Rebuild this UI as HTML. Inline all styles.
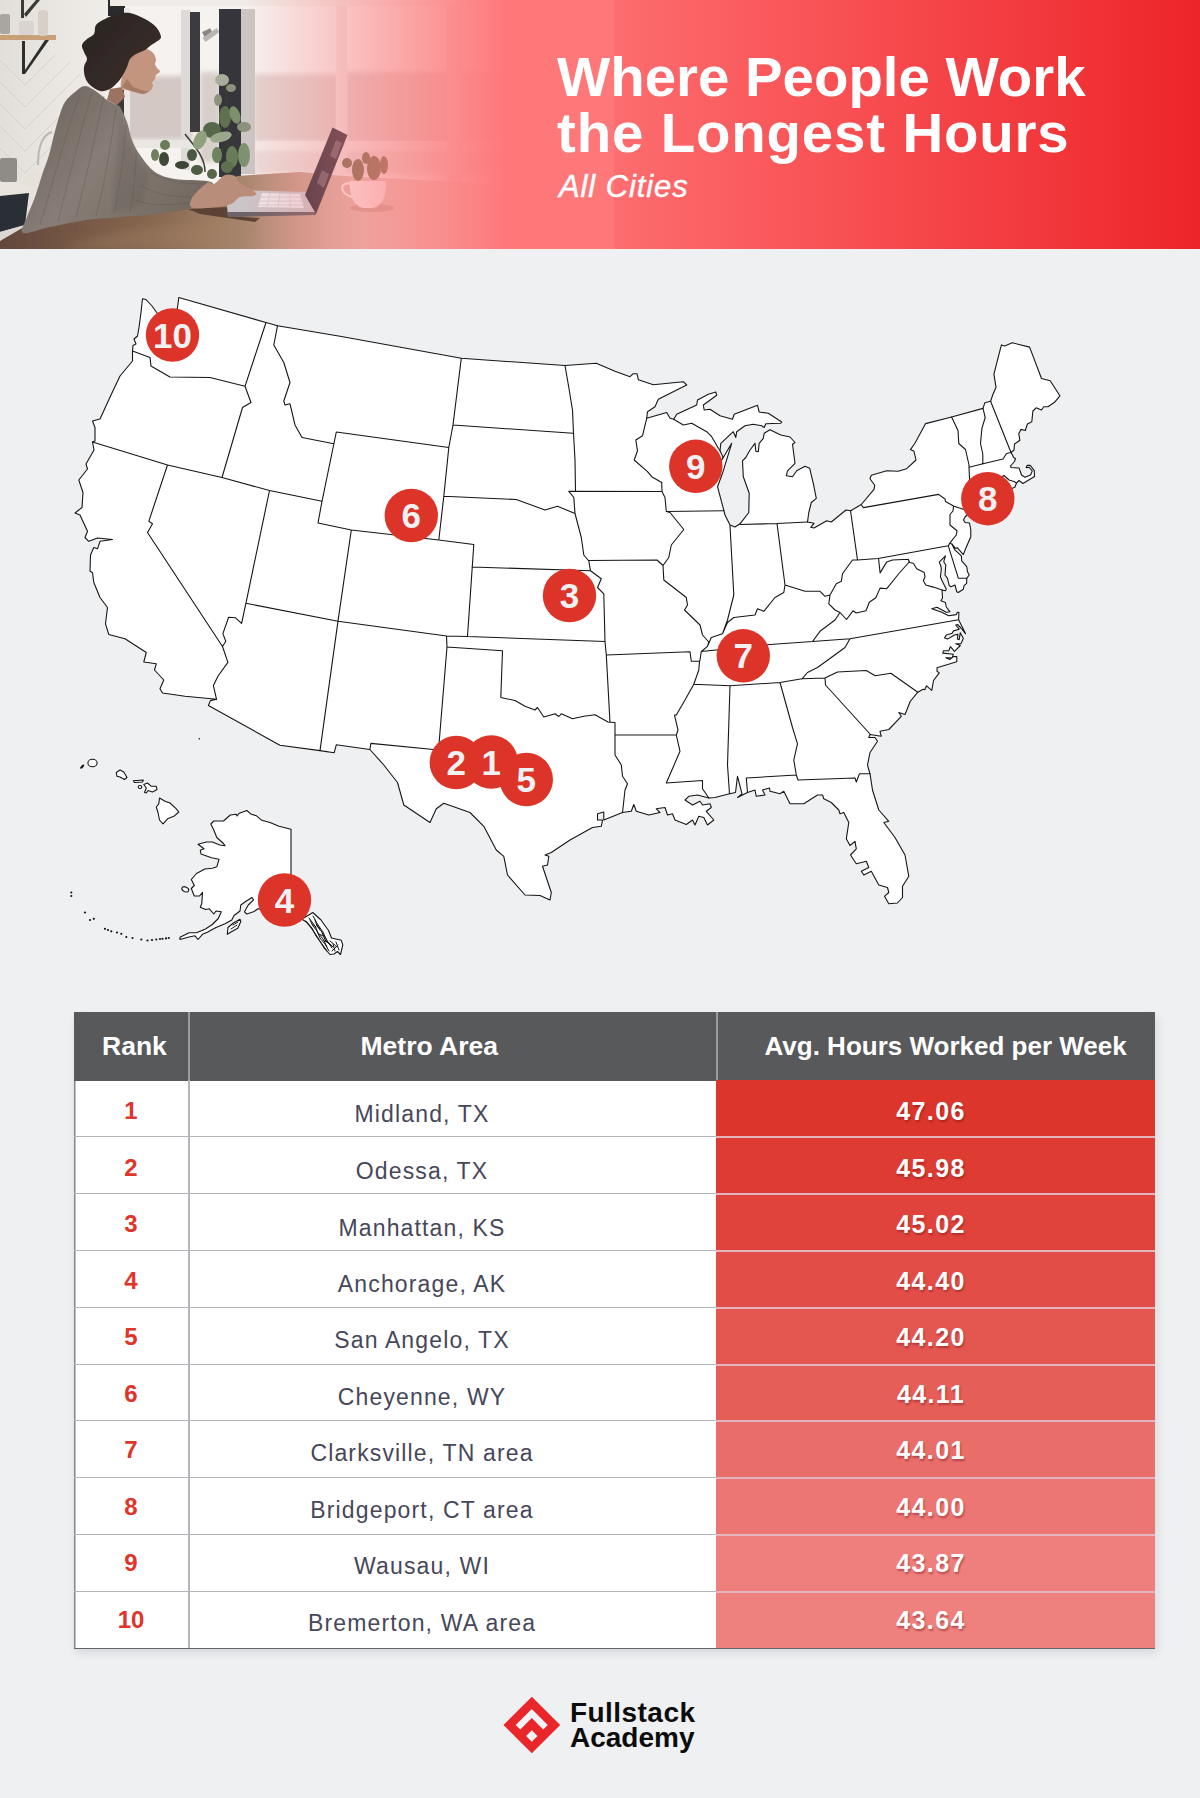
<!DOCTYPE html>
<html lang="en">
<head>
<meta charset="utf-8">
<title>Where People Work the Longest Hours</title>
<style>
html,body{margin:0;padding:0;}
body{width:1200px;height:1798px;background:#eff0f2;position:relative;overflow:hidden;font-family:"Liberation Sans",Arial,sans-serif;}
#hdr{position:absolute;left:0;top:0;width:1200px;height:249px;overflow:hidden;background:linear-gradient(90deg,#fd6d6f 0px,#fd6d6f 613px,#f95558 800px,#f33d41 1000px,#ed2529 1200px);}
#hdr svg{position:absolute;left:0;top:0;}
#t1,#t2{position:absolute;left:557px;color:#fff;font-weight:700;font-size:56.4px;line-height:60px;white-space:nowrap;}
#t1{top:47.4px;letter-spacing:0px;}
#t2{top:102.9px;letter-spacing:0.85px;}
#t3{position:absolute;left:559px;top:170px;color:#fff;font-style:italic;font-size:31px;line-height:34px;white-space:nowrap;letter-spacing:0.9px;-webkit-text-stroke:0.45px #fff;}
#map{position:absolute;left:0;top:248px;width:1200px;height:740px;}
#tbl{position:absolute;left:74px;top:1012px;width:1081px;height:636px;box-shadow:2px 5px 9px rgba(40,40,60,0.12),0 1px 0 #6f6a6e,inset 1.5px 0 0 #85868a;background:#fff;}
.th{position:absolute;top:0;height:69px;background:#58595b;color:#fff;font-weight:700;font-size:26.5px;white-space:nowrap;box-sizing:border-box;}
.th span{position:absolute;top:19px;line-height:30px;}
.row{position:absolute;left:0;width:1081px;}
.c1,.c2,.c3{position:absolute;top:0;height:100%;white-space:nowrap;box-sizing:border-box;}
.row span{position:absolute;transform:translateX(-50%);line-height:30px;}
.c1{left:0;width:114px;color:#e0352b;font-weight:700;font-size:24px;}
.c1 span{left:57px;top:17px;}
.c2{left:114px;width:528px;color:#47475a;font-size:23px;border-left:2px solid #b4b5bb;letter-spacing:1.15px;}
.c2 span{left:232px;top:17.5px;}
.c3{left:642px;width:439px;color:#fff;font-weight:700;font-size:25px;letter-spacing:1.4px;text-shadow:1px 2px 2px rgba(120,20,20,0.45);}
.c3 span{left:215px;top:16px;}
.c1.bt,.c2.bt{border-top:1px solid #b4b5bb;}
.c3.bt{border-top:2px solid #e3b4be;}
#logo{position:absolute;left:500px;top:1693px;}
#lt{position:absolute;left:570px;top:1700px;color:#0c0c0c;font-weight:700;font-size:28px;line-height:25.2px;white-space:nowrap;}
</style>
</head>
<body>
<div id="hdr">
<svg id="photo" width="614" height="249" viewBox="0 0 614 249">
<defs>
<filter id="b1" x="-5%" y="-5%" width="110%" height="110%"><feGaussianBlur stdDeviation="0.7"/></filter>
<filter id="b2" x="-5%" y="-5%" width="110%" height="110%"><feGaussianBlur stdDeviation="2.5"/></filter>
<filter id="b3" x="-10%" y="-10%" width="120%" height="120%"><feGaussianBlur stdDeviation="5"/></filter>
<linearGradient id="ov" x1="245" y1="0" x2="505" y2="0" gradientUnits="userSpaceOnUse"><stop offset="0" stop-color="#fe787a" stop-opacity="0"/><stop offset="1" stop-color="#fe787a" stop-opacity="1"/></linearGradient>
<linearGradient id="wall" x1="0" y1="0" x2="110" y2="0" gradientUnits="userSpaceOnUse"><stop offset="0" stop-color="#e2ded9"/><stop offset="1" stop-color="#f0ede9"/></linearGradient>
<linearGradient id="tbl" x1="0" y1="0" x2="520" y2="0" gradientUnits="userSpaceOnUse"><stop offset="0" stop-color="#63473a"/><stop offset="0.3" stop-color="#886850"/><stop offset="0.45" stop-color="#a48169"/><stop offset="0.58" stop-color="#c9a08e"/><stop offset="0.7" stop-color="#e3c4ba"/><stop offset="1" stop-color="#f0dfda"/></linearGradient>
<linearGradient id="sw" x1="30" y1="90" x2="200" y2="220" gradientUnits="userSpaceOnUse"><stop offset="0" stop-color="#6a615b"/><stop offset="0.45" stop-color="#877d76"/><stop offset="1" stop-color="#70675f"/></linearGradient>
<linearGradient id="hr" x1="85" y1="20" x2="150" y2="80" gradientUnits="userSpaceOnUse"><stop offset="0" stop-color="#2a2321"/><stop offset="1" stop-color="#3a2f2b"/></linearGradient>
</defs>
<rect width="614" height="249" fill="#f6f2ef"/>
<g filter="url(#b2)">
<rect x="-5" y="-5" width="117" height="260" fill="url(#wall)"/>
<rect x="126" y="76" width="66" height="64" fill="#d3c8c4"/>
<rect x="200" y="72" width="20" height="90" fill="#d8cfcb"/>
<rect x="254" y="74" width="84" height="68" fill="#e2d3d0"/>
<rect x="346" y="72" width="104" height="72" fill="#e3d2cf"/>
<rect x="460" y="72" width="60" height="72" fill="#e6d6d3"/>
<rect x="254" y="150" width="260" height="24" fill="#eadcd9"/>
</g>
<g filter="url(#b1)">
<rect x="108" y="0" width="17" height="16" fill="#2c2b2e"/>
<rect x="116" y="90" width="10" height="30" fill="#3a3839"/>
<rect x="124" y="8" width="6" height="135" fill="#ebe8e5"/>
<rect x="181" y="10" width="9" height="160" fill="#dedad7"/>
<rect x="190" y="12" width="10" height="120" fill="#3b3b3f"/>
<rect x="203" y="30" width="9" height="6" fill="#8b8786" transform="rotate(-25 207 33)"/>
<path d="M204 40l14-10" stroke="#b9b5b2" stroke-width="5"/>
<rect x="219" y="9" width="22" height="168" fill="#36363a"/>
<rect x="241" y="9" width="14" height="165" fill="#cbc6c4"/>
<rect x="126" y="140" width="70" height="8" fill="#eae6e3"/>
<rect x="255" y="141" width="260" height="8" fill="#f3ebe8"/>
<rect x="336" y="5" width="11" height="170" fill="#efe6e3"/>
<rect x="447" y="0" width="15" height="185" fill="#eedfdc"/>
<rect x="110" y="0" width="504" height="6" fill="#f0ebe7"/>
<rect x="0" y="35" width="56" height="5" fill="#c7a078"/>
<path d="M22 41h3v29l20-30h4l-24 34h-3z" fill="#2e2d2c"/>
<rect x="21" y="0" width="3" height="18" fill="#3a3a36"/>
<path d="M24 14l12-14h4l-14 17z" fill="#3a3a36"/>
<rect x="0" y="14" width="10" height="20" rx="2" fill="#a9a6a0"/>
<rect x="19" y="21" width="15" height="14" rx="3" fill="#d9d5ce"/>
<rect x="38" y="10" width="10" height="26" rx="4" fill="#d6d0c8"/>
<g stroke="#d2cdc7" stroke-width="1" fill="none" opacity="0.8"><path d="M0 60l25 25 30-30M0 82l25 25 45-45M0 104l25 25 55-55M0 126l25 25 50-50M0 148l25 25 30-30"/></g>
<path d="M0 180l30 6v8l-30 2z" fill="#e9e4de"/>
<path d="M0 196l29-3-4 32-25 7z" fill="#2b2e34"/>
<path d="M0 232l25-7-2 24h-23z" fill="#dcd7d2"/>
<rect x="0" y="158" width="17" height="24" rx="2" fill="#8f8c87"/>
<rect x="23" y="172" width="17" height="14" rx="5" fill="#e6e1d9"/>
<path d="M38 165c0-18 4-30 14-33" stroke="#b9b7b5" stroke-width="2" fill="none"/>
<path d="M0 249v-8l24-14 96-19 70-8 37 5 10-29 63-4 45 4 75 4 100 6 94 8v55z" fill="url(#tbl)"/>
<path d="M60 249c60-22 130-28 200-30l-20 30z" fill="#a58468" opacity="0.35" filter="url(#b3)"/>
<g stroke="#3a3d30" stroke-width="1.5" fill="none"><path d="M228 175c-2-30 4-60-4-92M205 172c0-15-10-25-20-38M222 150c8-8 14-14 22-22"/></g>
<ellipse cx="222" cy="80" rx="7" ry="6" fill="#a9ad9c"/>
<ellipse cx="231" cy="88" rx="5" ry="4" fill="#8c917f"/>
<ellipse cx="225" cy="117" rx="6" ry="11" fill="#5e7150"/>
<ellipse cx="212" cy="130" rx="9" ry="8" fill="#55684a"/>
<ellipse cx="221" cy="137" rx="11" ry="5" fill="#9aa88a" transform="rotate(-15 221 137)"/>
<ellipse cx="235" cy="115" rx="5" ry="9" fill="#7d8f6c" transform="rotate(-20 235 115)"/>
<ellipse cx="244" cy="127" rx="7" ry="5" fill="#8a917c"/>
<ellipse cx="244" cy="155" rx="6" ry="12" fill="#7f9270"/>
<ellipse cx="232" cy="157" rx="6" ry="11" fill="#687c59"/>
<ellipse cx="217" cy="155" rx="5" ry="8" fill="#6f835f"/>
<ellipse cx="227" cy="167" rx="6" ry="6" fill="#5d704f"/>
<ellipse cx="200" cy="140" rx="6" ry="10" fill="#8fa07c" transform="rotate(25 200 140)"/>
<ellipse cx="192" cy="155" rx="5" ry="6" fill="#4a5941"/>
<ellipse cx="165" cy="145" rx="5" ry="5" fill="#6b7d5a"/>
<ellipse cx="164" cy="159" rx="5" ry="7" fill="#3f4a38"/>
<ellipse cx="155" cy="155" rx="4" ry="6" fill="#6f805e"/>
<ellipse cx="182" cy="165" rx="7" ry="4" fill="#3a4434"/>
<ellipse cx="197" cy="170" rx="6" ry="5" fill="#4d5c43"/>
<ellipse cx="212" cy="174" rx="5" ry="5" fill="#55664a"/>
<ellipse cx="218" cy="100" rx="4" ry="6" fill="#8d937f"/>
<path d="M188 209l40-2 0 9 32 2-5 4-55-8z" fill="#5b4334"/>
<path d="M227 206l10-16 71 2 8 22-88 2z" fill="#cbc4c8"/>
<path d="M262 193l38 1 4 14-46-1z" fill="#ece7ea"/>
<g stroke="#cfc9cd" stroke-width="0.8"><path d="M261 197h40M260 201h42M259 205h44M270 193l-3 14M280 193l-2 14M290 194l0 14"/></g>
<path d="M227 212l89 0 0 3-88 2z" fill="#6d6468"/>
<path d="M332.500 127.500l15 7.500-31.500 79-11-19z" fill="#38343f"/>
<path d="M336 140l6 3-6 16-6-3zM322 170l7 4-5 14-7-5z" fill="#8d8790" opacity="0.55"/>
<ellipse cx="372" cy="208" rx="22" ry="4" fill="#b58d7c" opacity="0.5"/>
<path d="M350 181h36c1 14-4 26-14 27h-8c-10-1-15-13-14-27z" fill="#fcf0ef"/>
<path d="M351 184c-10-3-14 8 1 13" stroke="#fcf0ef" stroke-width="2.200" fill="none"/>
<g fill="#74704f"><ellipse cx="358" cy="170" rx="6" ry="11"/><ellipse cx="374" cy="168" rx="7" ry="12"/><ellipse cx="384" cy="165" rx="4" ry="9"/><ellipse cx="347" cy="163" rx="5" ry="5"/><ellipse cx="366" cy="158" rx="4" ry="6"/></g>
<path d="M85.0 86.0C81.3 86.0 78.3 89.3 75.0 92.0C71.7 94.7 67.7 97.8 65.0 102.0C62.3 106.2 60.8 111.5 59.0 117.0C57.2 122.5 55.7 128.7 54.0 135.0C52.3 141.3 51.0 148.3 49.0 155.0C47.0 161.7 44.3 168.0 42.0 175.0C39.7 182.0 37.5 190.0 35.0 197.0C32.5 204.0 29.0 211.0 27.0 217.0C25.0 223.0 19.2 231.3 23.0 233.0C26.8 234.7 39.3 229.2 50.0 227.0C60.7 224.8 75.3 221.7 87.0 220.0C98.7 218.3 108.7 218.0 120.0 217.0C131.3 216.0 143.3 215.5 155.0 214.0C166.7 212.5 183.7 210.8 190.0 208.0C196.3 205.2 189.3 200.7 193.0 197.0C196.7 193.3 209.7 188.7 212.0 186.0C214.3 183.3 213.2 182.2 207.0 181.0C200.8 179.8 183.7 180.5 175.0 179.0C166.3 177.5 160.8 176.0 155.0 172.0C149.2 168.0 143.8 160.3 140.0 155.0C136.2 149.7 134.2 145.5 132.0 140.0C129.8 134.5 129.0 127.5 127.0 122.0C125.0 116.5 121.7 109.8 120.0 107.0C118.3 104.2 119.2 106.2 117.0 105.0C114.8 103.8 110.3 102.2 107.0 100.0C103.7 97.8 100.7 94.3 97.0 92.0C93.3 89.7 88.7 86.0 85.0 86.0Z" fill="url(#sw)"/>
<path d="M110 89l12-2 3 10-8 8-10-5z" fill="#9b7361"/>
<path d="M142.0 48.0C144.2 47.7 147.0 49.0 149.0 50.0C151.0 51.0 152.8 52.3 154.0 54.0C155.2 55.7 155.8 58.3 156.0 60.0C156.2 61.7 154.8 62.7 155.0 64.0C155.2 65.3 156.2 66.8 157.0 68.0C157.8 69.2 160.2 70.3 160.0 71.5C159.8 72.7 156.8 73.8 156.0 75.0C155.2 76.2 155.7 77.7 155.0 79.0C154.3 80.3 152.3 81.9 152.0 83.0C151.7 84.1 153.3 84.2 153.0 85.5C152.7 86.8 151.7 89.6 150.0 91.0C148.3 92.4 146.2 94.0 143.0 94.0C139.8 94.0 134.7 92.2 131.0 91.0C127.3 89.8 122.2 90.5 121.0 87.0C119.8 83.5 122.5 74.8 124.0 70.0C125.5 65.2 128.0 61.0 130.0 58.0C132.0 55.0 134.0 53.7 136.0 52.0C138.0 50.3 139.8 48.3 142.0 48.0Z" fill="#c3957f"/>
<path d="M122 87l9 4 12 3 6-3-4 0-12-4-6-8z" fill="#a57a66"/>
<path d="M130 60l6-6 10-5-10 2z" fill="#a67c69"/>
<path d="M117.0 14.0C121.2 13.0 125.3 12.2 130.0 13.0C134.7 13.8 140.7 16.7 145.0 19.0C149.3 21.3 153.3 24.0 156.0 27.0C158.7 30.0 161.0 34.5 161.0 37.0C161.0 39.5 157.8 40.5 156.0 42.0C154.2 43.5 151.8 44.7 150.0 46.0C148.2 47.3 147.3 48.7 145.0 50.0C142.7 51.3 138.5 52.5 136.0 54.0C133.5 55.5 131.5 56.8 130.0 59.0C128.5 61.2 128.2 64.3 127.0 67.0C125.8 69.7 124.5 72.5 123.0 75.0C121.5 77.5 120.2 79.7 118.0 82.0C115.8 84.3 113.0 87.5 110.0 89.0C107.0 90.5 103.3 91.7 100.0 91.0C96.7 90.3 92.5 87.3 90.0 85.0C87.5 82.7 86.0 80.0 85.0 77.0C84.0 74.0 83.7 70.0 84.0 67.0C84.3 64.0 87.0 61.5 87.0 59.0C87.0 56.5 84.8 54.3 84.0 52.0C83.2 49.7 81.5 47.2 82.0 45.0C82.5 42.8 85.0 40.8 87.0 39.0C89.0 37.2 92.5 36.3 94.0 34.0C95.5 31.7 94.2 27.5 96.0 25.0C97.8 22.5 101.5 20.8 105.0 19.0C108.5 17.2 112.8 15.0 117.0 14.0Z" fill="url(#hr)"/>
<path d="M207.0 183.0C210.7 180.7 211.0 185.3 214.0 184.0C217.0 182.7 221.5 176.3 225.0 175.0C228.5 173.7 232.7 174.8 235.0 176.0C237.3 177.2 235.7 179.3 239.0 182.0C242.3 184.7 252.7 189.7 255.0 192.0C257.3 194.3 255.5 195.2 253.0 196.0C250.5 196.8 244.2 195.5 240.0 197.0C235.8 198.5 235.7 203.2 228.0 205.0C220.3 206.8 200.0 209.2 194.0 208.0C188.0 206.8 189.8 202.2 192.0 198.0C194.2 193.8 203.3 185.3 207.0 183.0Z" fill="#b88d79"/>
</g>
<g stroke="#5f5752" stroke-width="1" opacity="0.4" fill="none" filter="url(#b1)">
<path d="M80 95c-12 30-25 80-40 130M92 92c-10 35-22 80-34 130M104 96c-8 35-16 75-28 122M116 108c-5 35-10 70-20 108M126 125c-2 30-6 60-12 88M136 150c0 20-2 40-6 62M150 172c12 8 30 12 55 12M140 185c15 10 35 12 52 12M135 200c15 6 35 6 55 2"/>
</g>
<path d="M120 107c5 25 12 50 30 68l-8 30-30 8z" fill="#5c544f" opacity="0.25" filter="url(#b2)"/>
<rect x="245" y="0" width="369" height="249" fill="url(#ov)"/>
</svg>
<div id="t1">Where People Work</div>
<div id="t2">the Longest Hours</div>
<div id="t3">All Cities</div>
</div>
<svg id="map" width="1200" height="740" viewBox="0 248 1200 740">
<g fill="#fff" stroke="#161616" stroke-width="1.1" stroke-linejoin="round" stroke-linecap="round">
<path d="M142.5 298.8 L146.0 299.5 L152.0 306.0 L157.0 313.0 L160.0 322.0 L158.0 330.0 L163.0 336.0 L168.0 330.0 L172.0 320.0 L176.0 312.0 L177.5 307.5 L178.8 297.5 L266.0 322.5 L277.5 325.8 L340.0 336.3 L461.3 358.3 L565.0 365.5 L596.3 363.3 L615.0 371.3 L630.0 376.7 L633.3 373.7 L637.0 373.7 L638.3 379.7 L653.3 384.7 L683.3 381.7 L686.7 385.0 L658.3 399.2 L655.0 406.7 L647.5 411.7 L646.7 418.3 L666.7 412.5 L670.0 418.3 L673.7 419.2 L676.7 414.2 L696.7 405.0 L697.5 400.0 L708.3 394.2 L715.8 392.0 L716.7 395.3 L703.3 405.0 L704.2 410.0 L710.0 409.2 L720.0 415.8 L732.5 419.2 L734.2 414.2 L757.5 405.3 L759.2 412.0 L768.3 413.3 L781.7 422.0 L780.8 423.3 L765.8 423.7 L764.2 427.5 L761.7 425.8 L753.3 424.2 L745.0 425.8 L736.7 431.7 L735.8 437.5 L733.3 431.7 L720.8 443.3 L720.0 450.8 L723.0 457.0 L721.5 460.5 L731.7 443.3 L722.5 473.3 L717.5 486.7 L723.3 508.3 L725.0 515.0 L730.0 525.0 L735.0 527.0 L740.0 523.8 L748.8 512.5 L749.2 493.3 L743.3 476.7 L742.5 460.8 L745.8 457.5 L750.0 450.0 L755.0 443.3 L755.8 451.3 L758.3 451.7 L759.2 443.3 L763.3 438.3 L764.2 433.3 L770.0 429.7 L780.8 435.0 L790.0 437.0 L795.0 442.5 L792.5 444.2 L795.0 463.3 L787.5 470.8 L786.3 475.8 L792.5 476.7 L796.7 470.8 L805.0 466.3 L809.7 468.3 L813.3 483.3 L816.3 498.3 L811.3 502.5 L808.8 512.5 L807.5 522.0 L814.0 523.3 L810.7 527.3 L814.0 528.0 L826.7 520.7 L831.3 522.0 L846.0 510.0 L850.7 510.7 L861.3 504.5 L874.0 489.3 L874.7 485.3 L870.0 478.7 L871.3 475.3 L886.7 470.7 L898.0 471.3 L906.7 468.7 L916.0 460.0 L914.0 451.3 L910.4 449.6 L914.8 443.5 L925.6 423.6 L951.6 417.0 L983.0 408.4 L984.8 402.8 L990.6 401.3 L992.8 394.8 L996.0 387.2 L993.9 374.2 L1001.4 344.9 L1004.7 346.0 L1012.3 342.8 L1029.6 347.1 L1041.5 378.5 L1050.2 380.7 L1059.9 395.8 L1054.5 402.3 L1048.0 406.7 L1043.7 406.7 L1041.5 410.0 L1036.1 407.8 L1032.9 411.0 L1031.8 421.8 L1027.4 424.0 L1025.3 430.5 L1020.9 429.4 L1018.8 433.8 L1019.9 440.3 L1014.5 444.0 L1014.0 450.0 L1011.0 452.5 L1012.5 455.0 L1013.5 457.5 L1015.5 458.5 L1014.5 461.5 L1010.5 466.0 L1011.0 467.5 L1019.0 468.0 L1020.5 472.0 L1021.5 475.0 L1025.0 477.2 L1030.5 475.0 L1032.3 471.0 L1029.2 467.3 L1026.2 467.6 L1027.2 465.4 L1030.2 465.3 L1034.3 470.6 L1034.5 476.5 L1023.0 483.5 L1019.0 480.5 L1016.5 483.0 L1015.0 487.0 L1005.0 492.0 L985.0 502.0 L972.0 510.0 L965.0 517.0 L963.5 520.0 L965.0 522.5 L969.5 523.0 L970.8 530.0 L970.8 536.7 L965.8 548.3 L963.3 554.6 L957.5 547.9 L955.4 548.3 L952.0 544.2 L954.6 549.6 L961.3 555.8 L961.7 560.8 L966.7 566.7 L967.5 571.7 L969.2 575.0 L966.7 578.3 L966.7 583.3 L964.2 585.4 L963.3 589.2 L958.3 592.5 L956.7 591.7 L955.0 585.0 L950.8 586.7 L949.2 585.4 L947.5 578.3 L945.0 575.0 L945.4 570.0 L945.8 565.0 L943.8 561.7 L945.4 555.8 L939.2 562.1 L940.8 565.8 L941.3 569.2 L940.4 576.7 L941.7 580.0 L946.3 589.2 L945.4 590.8 L942.1 590.0 L942.5 598.3 L940.8 600.8 L945.4 602.5 L946.3 607.0 L949.8 611.7 L946.3 612.3 L937.0 607.2 L931.8 608.8 L941.7 612.3 L948.7 615.8 L956.3 614.6 L957.4 612.3 L958.9 612.3 L958.6 619.8 L965.6 633.8 L961.0 628.0 L957.5 624.5 L955.7 625.0 L959.2 629.2 L953.3 630.9 L952.2 633.3 L946.3 635.0 L944.6 637.9 L947.5 639.1 L954.5 635.0 L958.0 634.4 L957.4 639.1 L959.2 639.7 L960.3 632.7 L963.3 638.5 L960.9 643.8 L955.7 643.8 L960.3 645.5 L954.5 651.3 L950.4 646.7 L948.7 650.8 L943.4 650.8 L942.8 653.1 L953.3 654.3 L952.2 657.8 L945.8 657.8 L949.8 659.5 L953.3 656.6 L956.8 656.6 L956.8 661.8 L937.0 667.7 L937.0 671.2 L939.3 672.9 L933.5 680.5 L931.8 690.4 L926.5 685.8 L924.8 689.8 L923.0 689.3 L917.8 692.2 L910.2 701.5 L905.0 714.5 L898.8 712.5 L901.3 716.3 L888.8 729.5 L880.0 731.3 L881.3 736.3 L870.0 734.5 L868.8 737.5 L875.0 737.5 L877.5 741.3 L870.0 752.5 L867.5 765.0 L870.0 773.8 L872.5 790.0 L878.8 810.0 L888.8 821.3 L883.8 822.5 L895.0 837.5 L905.0 855.0 L908.8 876.3 L902.5 886.3 L902.5 897.5 L897.5 903.0 L888.8 903.8 L884.5 896.3 L888.8 892.5 L887.5 887.5 L878.8 885.0 L871.3 871.3 L863.8 875.0 L861.3 871.3 L868.8 867.5 L866.3 861.3 L856.3 863.8 L850.5 855.0 L856.3 848.8 L855.0 841.3 L850.0 845.5 L846.3 838.8 L848.8 822.5 L843.8 812.5 L840.0 813.8 L838.8 810.0 L831.3 802.5 L823.8 798.8 L822.5 795.0 L817.5 795.0 L803.8 803.8 L790.0 803.8 L783.8 791.3 L780.0 793.8 L770.0 791.3 L769.5 788.0 L762.5 790.0 L765.0 795.0 L756.3 796.3 L755.0 790.0 L747.5 792.5 L737.5 797.5 L742.0 793.8 L737.5 776.3 L735.5 792.5 L729.5 793.8 L715.0 797.5 L708.8 798.0 L697.5 795.0 L688.8 796.3 L685.0 800.0 L692.5 805.0 L700.0 801.3 L702.5 805.0 L710.0 803.8 L711.3 807.5 L706.3 811.3 L713.8 820.0 L707.5 825.0 L703.8 817.5 L698.8 816.3 L695.0 825.0 L692.5 820.0 L686.3 824.5 L675.0 820.0 L672.5 813.8 L667.5 815.0 L665.0 807.5 L656.3 808.8 L660.0 812.5 L648.8 815.0 L636.3 811.3 L633.8 804.5 L631.3 811.3 L622.5 812.5 L603.8 820.0 L603.8 812.0 L597.5 813.8 L597.5 820.0 L602.5 820.0 L601.3 826.3 L592.5 827.5 L570.0 840.0 L551.3 852.5 L545.0 855.0 L548.8 856.3 L547.5 865.0 L542.5 866.3 L551.3 892.5 L550.0 900.0 L540.0 895.5 L525.0 895.0 L507.5 875.0 L503.8 856.3 L496.3 850.0 L483.8 826.3 L470.0 812.5 L443.8 803.3 L436.3 808.8 L430.0 822.5 L403.8 805.0 L397.5 782.5 L383.8 765.0 L369.9 749.5 L336.3 744.8 L334.1 752.8 L320.0 750.6 L279.9 745.2 L208.4 705.5 L210.4 700.6 L216.6 699.3 L185.0 696.3 L162.5 693.0 L160.0 688.8 L163.8 680.0 L154.5 670.0 L156.3 663.8 L143.8 662.0 L146.3 652.5 L125.0 638.8 L108.8 634.5 L105.5 623.8 L107.5 607.5 L100.0 597.5 L93.8 582.5 L92.5 572.5 L90.0 571.3 L90.5 555.0 L93.8 547.5 L97.5 548.8 L100.0 541.3 L112.5 539.5 L97.5 538.0 L88.8 541.3 L85.0 537.5 L87.5 531.3 L80.0 515.0 L75.0 513.0 L82.0 507.5 L83.0 492.5 L78.8 480.0 L87.5 469.0 L86.0 464.0 L94.0 450.0 L92.5 442.0 L95.0 441.0 L95.0 427.5 L92.5 421.0 L100.0 419.0 L111.0 395.0 L120.0 376.0 L132.5 361.0 L132.5 353.8 L132.5 351.0 L133.0 345.5 L136.0 344.0 L134.0 339.0 L137.5 336.0 L139.0 327.5 L141.0 312.5Z"/>
<path d="M210.8 824.0 L213.8 821.0 L223.5 821.0 L230.3 815.0 L236.3 814.3 L237.0 816.0 L239.3 813.2 L246.8 810.5 L251.3 814.3 L256.5 815.8 L261.8 820.3 L270.0 822.5 L279.0 826.3 L291.0 829.3 L291.0 905.0 L297.0 910.0 L303.0 918.5 L312.8 912.5 L321.0 920.0 L328.5 930.5 L331.5 938.0 L341.3 940.3 L342.8 944.8 L340.5 954.5 L337.5 951.5 L334.0 954.0 L330.0 954.5 L324.0 947.8 L318.0 938.0 L312.0 929.0 L306.8 922.3 L300.0 918.0 L290.0 916.0 L275.0 912.0 L258.0 908.8 L253.5 911.8 L246.8 914.0 L244.5 911.8 L248.3 905.0 L253.5 899.8 L252.0 897.5 L246.0 901.3 L240.8 905.0 L240.0 911.0 L234.0 915.5 L231.8 920.0 L225.0 923.8 L216.0 927.5 L207.8 932.0 L202.5 934.3 L198.0 939.5 L195.0 935.8 L189.0 937.0 L180.0 939.5 L180.0 937.3 L189.0 932.8 L196.5 932.8 L205.5 929.0 L212.3 924.5 L218.3 918.5 L221.3 911.8 L216.0 911.0 L213.8 914.0 L209.3 908.8 L205.5 909.5 L200.3 907.3 L201.8 903.5 L202.5 892.3 L199.5 896.0 L194.3 896.0 L191.3 888.5 L194.3 885.5 L191.3 879.5 L196.5 873.5 L204.8 869.0 L212.3 868.3 L216.8 866.8 L219.0 859.3 L211.5 857.8 L201.0 854.0 L200.3 850.3 L204.0 848.8 L198.0 844.3 L206.3 842.0 L212.3 842.0 L219.8 845.0 L225.0 845.8 L223.5 843.5 L216.8 837.5 L213.8 830.0Z"/>
<path d="M228.0 927.5 L233.3 923.0 L240.0 919.3 L240.8 921.5 L237.8 928.3 L231.0 932.0 L227.3 934.3Z"/>
<path d="M116.3 772.5 L120.0 770.0 L123.8 772.0 L127.0 777.5 L124.5 779.5 L120.0 777.0 L117.0 776.3Z"/>
<path d="M133.3 780.8 L143.3 780.0 L142.5 782.0 L134.5 782.5Z"/>
<path d="M143.8 784.5 L147.5 783.0 L151.3 786.3 L156.3 786.3 L157.0 789.5 L152.5 792.0 L148.0 790.5 L146.3 793.0 L144.5 792.5 L146.3 788.0Z"/>
<path d="M159.5 798.0 L165.0 801.3 L170.0 803.0 L176.3 808.8 L178.8 812.0 L173.8 816.3 L167.5 818.8 L163.0 823.8 L159.5 820.0 L158.0 812.5 L156.3 807.0 L158.8 803.8Z"/>
<ellipse cx="92.5" cy="763" rx="4.6" ry="3.8"/><ellipse cx="185.3" cy="889.3" rx="3.6" ry="2.3" transform="rotate(25 185.3 889.3)"/><ellipse cx="140" cy="787" rx="1.8" ry="1.5"/>
</g>
<g fill="none" stroke="#161616" stroke-width="1.1" stroke-linejoin="round" stroke-linecap="round">
<path d="M132.5 351.0 L150.0 357.5 L151.0 366.0 L170.0 377.0 L210.0 377.5 L245.0 386.3 M266.0 322.5 L245.0 386.3 L251.0 402.5 L242.5 407.5 L222.0 477.5 M92.5 442.0 L167.5 465.0 L222.0 477.5 L269.5 490.5 L322.0 501.3 M277.5 325.8 L273.8 345.0 L283.8 362.5 L290.0 382.5 L283.8 401.0 L285.0 405.0 L290.0 403.8 L295.0 425.0 L302.0 437.5 L333.8 443.8 M448.8 447.5 L336.3 432.0 L322.0 501.3 L318.0 523.0 L351.3 530.0 L438.8 540.0 L473.8 544.5 L467.5 636.5 M167.5 465.0 L148.8 521.3 L152.5 523.8 L147.5 532.5 L222.5 646.5 M269.5 490.5 L245.9 603.3 M222.5 646.5 L225.8 641.2 L222.9 633.6 L228.6 617.3 L235.5 617.8 L241.6 623.4 L245.9 603.3 L338.0 621.2 L446.5 636.0 L467.5 636.5 L605.0 641.5 M222.5 646.5 L227.9 662.4 L218.2 675.8 L213.4 685.6 L216.5 699.2 M351.3 530.0 L338.0 621.2 L320.0 750.6 M446.5 636.0 L447.0 647.0 L438.5 750.0 L370.9 743.4 L369.9 749.5 M447.0 647.0 L502.5 650.8 L500.8 697.5 L515.0 700.5 L525.0 706.3 L535.0 710.0 L537.5 707.5 L543.8 717.0 L555.0 713.8 L558.8 716.5 L561.3 713.8 L572.5 718.8 L583.8 716.3 L595.0 714.8 L608.0 722.0 L615.0 722.5 L615.0 735.0 L615.0 755.0 L621.3 765.0 L622.5 776.3 L627.5 783.8 L625.0 790.0 L622.5 812.5 M472.0 567.0 L590.5 570.8 M461.3 358.3 L453.0 425.0 L448.8 447.5 L443.8 496.3 L438.8 540.0 M453.0 425.0 L573.0 433.3 M443.8 496.3 L516.3 499.5 L545.0 510.0 L557.5 506.3 L575.0 513.5 M565.0 365.5 L568.8 387.5 L572.5 410.0 L573.5 433.3 L575.0 460.0 L575.5 491.3 M662.0 491.5 L568.8 491.3 L573.8 497.5 L575.0 513.5 L581.3 537.5 L583.8 555.0 L588.8 561.0 L590.5 570.8 L601.3 578.8 L597.5 587.5 L603.8 593.8 L605.0 641.5 L606.3 655.0 L610.0 722.5 M615.0 735.0 L676.3 735.0 M588.8 560.5 L657.0 560.0 L663.0 565.5 M606.3 655.0 L690.0 651.8 L691.3 661.3 L699.5 661.3 M662.0 491.5 L665.0 497.5 L666.3 511.5 L670.0 512.5 L683.8 529.5 L671.3 545.0 L668.8 557.5 L663.0 565.5 L663.8 580.0 L686.3 597.5 L687.5 605.0 L684.5 610.0 L700.0 625.0 L702.5 635.0 L708.8 642.0 L707.5 646.3 L701.3 651.5 L700.0 660.0 L699.5 661.3 L698.8 670.0 L693.8 684.3 L685.0 700.0 L676.3 715.0 L674.5 715.0 L678.0 730.0 L676.3 735.0 L680.0 751.3 L666.3 783.0 L702.5 780.5 L702.5 788.8 L708.8 798.0 M646.7 418.3 L642.5 435.8 L635.8 440.0 L637.5 450.8 L634.2 460.0 L647.5 471.7 L651.7 476.7 L661.7 482.5 L662.0 491.5 M673.7 419.2 L683.3 425.0 L691.7 423.3 L706.7 431.7 L711.7 436.7 L718.3 448.3 L720.0 450.8 M666.3 511.5 L723.8 510.8 M730.0 525.5 L733.8 595.0 L727.5 620.0 L722.5 633.8 M707.5 646.3 L711.3 637.5 L722.5 633.8 L727.5 622.5 L733.8 617.5 L755.0 615.0 L757.5 608.8 L763.8 611.3 L775.0 597.5 L783.8 592.5 L785.0 585.0 L805.0 591.3 L820.0 591.3 L825.0 596.3 L830.0 595.0 L836.3 583.8 L841.3 581.3 L842.5 573.8 L852.5 560.0 L857.5 560.0 M740.0 524.5 L777.0 523.5 L807.5 522.0 M777.0 523.5 L785.0 585.0 M850.5 510.5 L857.5 560.0 L878.0 558.5 L948.3 545.8 L950.0 542.9 M861.5 505.0 L863.4 507.6 L938.6 494.4 L945.0 499.0 L945.5 501.5 L953.5 506.0 L962.5 509.0 L972.0 512.0 M953.5 506.0 L953.0 511.0 L950.0 514.5 L950.0 525.0 L957.0 530.7 L956.3 535.0 L950.0 542.9 L952.0 544.2 M948.3 545.8 L958.3 578.2 L966.7 578.2 M878.6 559.3 L880.1 572.9 L886.6 562.1 L892.5 560.0 L908.3 559.2 L909.6 562.5 L913.3 563.3 L916.7 568.8 L924.2 572.5 L925.0 576.7 L923.3 580.8 L925.8 585.0 L933.3 587.1 L942.1 590.0 M908.3 559.2 L909.2 562.0 L898.5 574.0 L886.6 588.8 L880.1 588.1 L875.8 597.8 L869.3 602.2 L866.0 610.8 L856.3 613.0 L853.0 610.8 L846.5 619.5 L840.0 612.5 M830.0 595.0 L828.8 603.8 L835.0 610.0 L840.0 612.5 L835.0 620.0 L820.0 631.3 L812.5 641.5 M701.3 651.5 L770.0 644.5 L812.5 641.5 L850.0 638.8 L958.6 619.8 M850.0 638.8 L845.0 647.5 L831.3 657.5 L817.5 667.5 L807.5 672.5 L802.0 678.8 M693.8 684.3 L730.0 685.8 L780.0 682.5 L802.0 678.8 L825.0 678.0 M730.0 685.8 L727.5 765.0 L729.5 793.8 M780.0 682.5 L792.5 727.5 L797.5 743.8 L793.8 760.0 L796.3 775.0 M747.5 792.5 L746.3 778.0 L796.3 775.0 L798.0 780.0 L855.0 778.0 L856.3 782.0 L859.5 773.8 L870.0 773.8 M825.0 678.0 L825.5 685.0 L870.0 734.0 M825.0 678.0 L837.5 672.0 L866.3 670.5 L875.2 675.8 L890.9 673.3 L917.8 692.2 M951.6 417.0 L958.0 430.5 L958.8 443.5 L965.5 449.5 L969.0 465.0 L969.0 467.2 L969.5 478.0 L970.0 495.0 M983.0 408.4 L985.2 417.5 L981.9 428.3 L980.5 443.5 L982.8 454.0 L982.8 464.0 M969.0 467.2 L982.0 464.0 L1003.0 459.0 L1006.5 453.5 L1011.0 452.5 M990.6 401.3 L1011.0 452.5 M1016.5 483.0 L1014.0 481.5 L1009.0 480.0 L1004.0 475.5 L1000.0 478.0"/>
</g>
<g fill="none" stroke="#161616" stroke-width="1" stroke-linecap="round"><path d="M309 918l6 8 3 7 5 6 4 8M313 916l5 9 5 7 4 9 6 6M306 921l6 7 4 8 6 8 5 7M317 925l3 5M322 933l4 6M326 939l6 9M330 941l7 6M333 944l2 7M312 924l4 3M319 934l4 2M310 920l3 6 4 5 3 7 5 6 4 7M315 920l2 6 5 6 3 8 6 6M336 942l3 8M338 945l-6 6M320 928l-3-2M327 942l-3-1M233 925l5-3M231 929l6-4"/></g>
<g fill="#161616"><circle cx="71.3" cy="892.5" r="1.1"/><circle cx="71.3" cy="896" r="1.1"/><circle cx="85" cy="912.5" r="1.1"/><circle cx="90" cy="920" r="1.1"/><circle cx="93.8" cy="918.8" r="1.1"/><circle cx="105" cy="928.8" r="1.1"/><circle cx="108" cy="930" r="1.1"/><circle cx="111.3" cy="931.3" r="1.1"/><circle cx="117" cy="932.5" r="1.1"/><circle cx="121.3" cy="933.8" r="1.1"/><circle cx="126.3" cy="937" r="1.1"/><circle cx="132.5" cy="938" r="1.1"/><circle cx="141.3" cy="939.5" r="1.1"/><circle cx="147.5" cy="940.5" r="1.1"/><circle cx="152" cy="940" r="1.1"/><circle cx="156.3" cy="939.5" r="1.1"/><circle cx="160" cy="939" r="1.1"/><circle cx="162.5" cy="938.8" r="1.1"/><circle cx="166" cy="938.4" r="1.1"/><circle cx="168.8" cy="938" r="1.1"/><ellipse cx="82.2" cy="766.6" rx="2.7" ry="1.2" transform="rotate(-45 82.2 766.6)"/><circle cx="199.3" cy="738.7" r="0.8"/></g>
<g fill="#dc3428"><circle cx="172.5" cy="335" r="26.7"/><circle cx="411.3" cy="515.5" r="26.7"/><circle cx="569.5" cy="595.5" r="26.7"/><circle cx="695.8" cy="466.3" r="26.7"/><circle cx="987.8" cy="498.7" r="26.7"/><circle cx="743.3" cy="655.8" r="26.7"/><circle cx="456.3" cy="762.5" r="26.7"/><circle cx="491.3" cy="762" r="26.7"/><circle cx="526.3" cy="779.5" r="26.7"/><circle cx="284.5" cy="900" r="26.7"/></g>
<g fill="#f0f1f3" font-family="'Liberation Sans',Arial,sans-serif" font-weight="700" font-size="35" text-anchor="middle"><text x="172.5" y="347.5">10</text><text x="411.3" y="528.0">6</text><text x="569.5" y="608.0">3</text><text x="695.8" y="478.8">9</text><text x="987.8" y="511.2">8</text><text x="743.3" y="668.3">7</text><text x="456.3" y="775.0">2</text><text x="491.3" y="774.5">1</text><text x="526.3" y="792.0">5</text><text x="284.5" y="912.5">4</text></g>
</svg>
<div id="tbl">
<div class="th" style="left:0;width:114px;"><span style="left:28px">Rank</span></div>
<div class="th" style="left:114px;width:528px;border-left:2px solid #9a9b9f;"><span style="left:170.5px">Metro Area</span></div>
<div class="th" style="left:642px;width:439px;border-left:2px solid #9a9b9f;"><span style="left:46.5px;font-size:26px">Avg. Hours Worked per Week</span></div>
<div class="row" style="top:68px;height:56px"><div class="c1"><span style="top:16.30px">1</span></div><div class="c2"><span style="top:18.65px">Midland, TX</span></div><div class="c3" style="background:#dc352b"><span style="top:16.40px">47.06</span></div></div>
<div class="row" style="top:124px;height:57px"><div class="c1 bt"><span style="top:15.62px">2</span></div><div class="c2 bt"><span style="top:19.09px">Odessa, TX</span></div><div class="c3 bt" style="background:#de3b32"><span style="top:14.52px">45.98</span></div></div>
<div class="row" style="top:181px;height:57px"><div class="c1 bt"><span style="top:15.14px">3</span></div><div class="c2 bt"><span style="top:18.53px">Manhattan, KS</span></div><div class="c3 bt" style="background:#e0433b"><span style="top:14.04px">45.02</span></div></div>
<div class="row" style="top:238px;height:57px"><div class="c1 bt"><span style="top:14.66px">4</span></div><div class="c2 bt"><span style="top:17.97px">Anchorage, AK</span></div><div class="c3 bt" style="background:#e24e47"><span style="top:13.56px">44.40</span></div></div>
<div class="row" style="top:295px;height:57px"><div class="c1 bt"><span style="top:14.18px">5</span></div><div class="c2 bt"><span style="top:17.41px">San Angelo, TX</span></div><div class="c3 bt" style="background:#e45650"><span style="top:13.08px">44.20</span></div></div>
<div class="row" style="top:352px;height:56px"><div class="c1 bt"><span style="top:13.70px">6</span></div><div class="c2 bt"><span style="top:16.85px">Cheyenne, WY</span></div><div class="c3 bt" style="background:#e55e58"><span style="top:12.60px">44.11</span></div></div>
<div class="row" style="top:408px;height:57px"><div class="c1 bt"><span style="top:14.22px">7</span></div><div class="c2 bt"><span style="top:17.29px">Clarksville, TN area</span></div><div class="c3 bt" style="background:#e96d69"><span style="top:13.12px">44.01</span></div></div>
<div class="row" style="top:465px;height:57px"><div class="c1 bt"><span style="top:13.74px">8</span></div><div class="c2 bt"><span style="top:16.73px">Bridgeport, CT area</span></div><div class="c3 bt" style="background:#ec7673"><span style="top:12.64px">44.00</span></div></div>
<div class="row" style="top:522px;height:57px"><div class="c1 bt"><span style="top:13.26px">9</span></div><div class="c2 bt"><span style="top:16.17px">Wausau, WI</span></div><div class="c3 bt" style="background:#ee7f7d"><span style="top:12.16px">43.87</span></div></div>
<div class="row" style="top:579px;height:57px"><div class="c1 bt"><span style="top:12.78px">10</span></div><div class="c2 bt"><span style="top:15.61px">Bremerton, WA area</span></div><div class="c3 bt" style="background:#ee807e"><span style="top:11.68px">43.64</span></div></div>

</div>
<svg id="logo" width="64" height="64" viewBox="500 1693 64 64">
<path d="M531.800 1696.700L560.200 1725 531.800 1753.300 503.500 1725Z" fill="#e9262a"/>
<path d="M531.800 1709L547.750 1724.900 543.200 1729.500 531.800 1718.100 520.300 1729.500 515.700 1724.900Z" fill="#f3f3f5"/>
<path d="M531.800 1730.200L537.500 1735.900 531.800 1741.700 526.100 1735.900Z" fill="#f3f3f5"/>
</svg>

<div id="lt"><span style="letter-spacing:0.45px">Fullstack</span><br>Academy</div>
</body>
</html>
